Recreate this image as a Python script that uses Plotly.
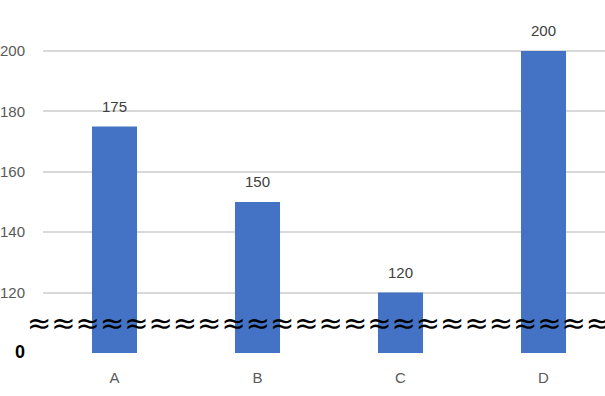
import plotly.graph_objects as go

categories = ["A", "B", "C", "D"]
values = [175, 150, 120, 200]
tick_values = [100, 120, 140, 160, 180, 200]
tick_labels = ["<b><span style='font-size:18px;color:#000000'>0</span></b>",
               "120", "140", "160", "180", "200"]
break_value = 110
break_text = "≈" * 25

fig = go.Figure()
fig.add_trace(go.Bar(
    x=categories, y=values, width=0.315,
    marker=dict(color="#4472C4", line=dict(width=0)),
    hoverinfo="skip",
))

for c, v in zip(categories, values):
    fig.add_annotation(x=c, y=v, text=str(v), showarrow=False,
                       yanchor="bottom", yshift=10,
                       font=dict(size=15, color="#404040", family="Liberation Sans"))

fig.add_annotation(xref="paper", x=-0.032, y=break_value, yref="y",
                   text=break_text, showarrow=False, xanchor="left", yanchor="middle",
                   font=dict(size=29, color="#000000", family="DejaVu Sans"))

fig.update_layout(
    width=605, height=396,
    margin=dict(l=43, r=0, t=0, b=43),
    paper_bgcolor="white", plot_bgcolor="white",
    showlegend=False,
    font=dict(family="Liberation Sans", size=15, color="#595959"),
    xaxis=dict(range=[-0.5, 3.43], showgrid=False, showline=False, zeroline=False,
               ticks="", ticklabelstandoff=14, tickfont=dict(size=15, color="#595959")),
    yaxis=dict(range=[100, 216.9], tickvals=tick_values, ticktext=tick_labels,
               showgrid=True, gridcolor="#D9D9D9", gridwidth=1.5, zeroline=False,
               ticks="", ticklabelstandoff=17, tickfont=dict(size=15, color="#595959")),
)
fig.update_yaxes(showline=False)
fig.write_html("out.html", post_script="document.body.style.margin='0';",
               config={"displayModeBar": False})
